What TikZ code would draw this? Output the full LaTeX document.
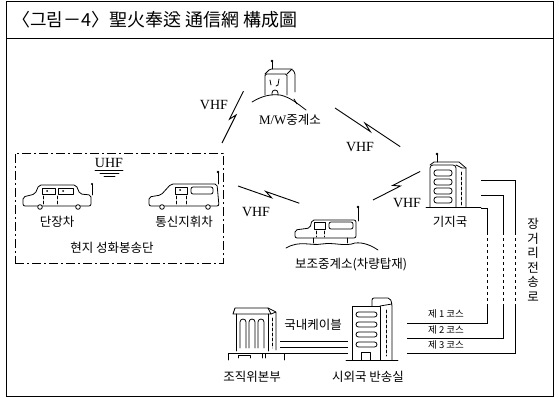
\documentclass[tikz,border=0pt]{standalone}
\usepackage{fontspec}
\setmainfont{Liberation Serif}
\newfontfamily\kr{Noto Sans CJK KR}
\usetikzlibrary{calc,positioning}

\tikzset{
  icon/.style={line width=0.8pt, line join=round, line cap=round},
  wire/.style={line width=0.9pt},
  krtext/.style={font=\kr\fontsize{12.5}{13}\selectfont, inner sep=1pt},
  freq/.style={font=\fontsize{14}{14}\selectfont, inner sep=1pt},
  course/.style={font=\kr\fontsize{9.5}{10}\selectfont, inner sep=1pt},
  spot/.style={inner sep=0pt, minimum width=#1, minimum height=#1},
  unitbox/.style={draw, line width=0.9pt, dash pattern=on 9pt off 3pt on 2pt off 3pt, inner sep=0pt},
}

% radio hop: straight line with a small zigzag break
\newcommand\radiolink[2]{%
  \draw[wire] (#1) -- ($(#1)!0.56!(#2)$) -- ($(#1)!0.44!(#2)!4pt!90:(#2)$) -- ($(#2)!4pt!-90:(#1)$);
}

\begin{document}
\begin{tikzpicture}[x=1pt,y=-1pt]
\useasboundingbox (0,0) rectangle (559,398);

% frame and title bar
\draw[line width=1pt] (6,2) rectangle (553,396);
\draw[line width=1pt] (6,39) -- (553,39);
\node[anchor=west, font=\kr\fontsize{18}{18}\selectfont, inner sep=0pt] (title) at (12,20) {〈그림－4〉聖火奉送 通信網 構成圖};

% M/W relay on the hill
\node[spot=40] (mw) at (280,84) {};
\draw[icon, rounded corners=1.5pt] (265,95) -- (265,74) -- (287,74) -- (287,95);
\draw[icon, rounded corners=1.5pt] (265,74) -- (270,69) -- (292,69) -- (295,73) -- (295,92);
\draw[icon] (287,74) -- (292,69);
\draw[icon] (272,69) -- (272,61);
\fill (272,61) circle (1.4);
\draw[icon] (270,80) -- (271,85) (279,79) -- (278,85) -- (276,86);
\draw[icon] (272,95) -- (272,93) arc (180:360:3) -- (278,95);
\draw[icon] (252,102) .. controls (262,96) and (270,94) .. (280,95) .. controls (290,97) and (298,104) .. (306,110);
\draw[icon] (294,99) -- (297,104);
\node[krtext] (mwlabel) at (290,120) {{\rmfamily\fontsize{13}{13}\selectfont M/W}중계소};

% field team
\node[unitbox, minimum width=208, minimum height=110] (unit) at (119,208) {};
\node[freq] (uhf) at (109,163) {UHF};
\draw[icon] (95,170) -- (123,170) (100,173) -- (119,173) (104,176) -- (115,176);

% lead car
\draw[icon, rounded corners=2pt] (23,206) -- (23,197) -- (35,194) -- (39,185) -- (76,185) -- (80,194) -- (91,195) -- (91,206) -- cycle;
\draw[icon] (42,188) rectangle (55,194) (58,188) rectangle (73,194);
\fill (47,191) circle (1) (63,191) circle (1);
\draw[icon, densely dashed] (43,196) -- (43,205) (57,196) -- (57,205);
\draw[icon, fill=white] (40,207) circle (2.3) (78,207) circle (2.3);
\draw[icon] (92,195) -- (92,184);
\fill (92,184) circle (1.2);
\node[krtext] (leadcar) at (57,222) {단장차};

% command car
\draw[icon, rounded corners=2pt] (149,206) -- (149,197) -- (161,195) -- (171,184) -- (217,184) -- (219,206) -- cycle;
\draw[icon] (175,187) rectangle (187,194);
\draw[icon, rounded corners=2pt] (191,187) rectangle (213,194);
\fill (180,190) circle (1);
\draw[icon, densely dashed] (176,196) -- (176,205) (186,196) -- (186,205);
\draw[icon, fill=white] (162,207) circle (2.3) (208,207) circle (2.3);
\draw[icon] (218,184) -- (218,172);
\fill (218,172) circle (1.3);
\node[krtext] (cmdcar) at (184,222) {통신지휘차};
\node[krtext] (team) at (112,248) {현지 성화봉송단};

% mobile relay car
\draw[icon, rounded corners=2pt] (295,238) -- (295,230) -- (310,228) -- (312,220) -- (356,220) -- (356,238) -- cycle;
\draw[icon] (314,222) rectangle (325,229);
\draw[icon, rounded corners=2pt] (329,222) rectangle (353,229);
\draw[icon, densely dashed] (316,231) -- (316,237) (324,231) -- (324,237);
\draw[icon] (313,238) -- (313,243) (347,238) -- (347,243);
\draw[icon] (358,221) -- (358,207);
\fill (358,207) circle (1.3);
\draw[icon] (286,248) .. controls (300,240) and (310,246) .. (322,244) .. controls (334,242) and (345,247) .. (355,243) .. controls (364,242) and (372,246) .. (378,250);
\node[krtext] (relay) at (351,265) {보조중계소(차량탑재)};

% base station
\node[spot=50] (base) at (455,185) {};
\draw[icon, rounded corners=3pt] (430,207) -- (430,165) -- (456,165) -- (456,207);
\draw[icon] (430,165) -- (434,162) -- (459,162) -- (466,168) -- (466,207);
\draw[icon] (456,165) -- (462,168) -- (466,168);
\draw[icon, densely dashed] (461,172) -- (461,205);
\foreach \wy in {170,179,188,197}
  \draw[icon, rounded corners=2.5pt] (434,\wy) rectangle (452,\wy+6);
\draw[icon] (437,162) -- (437,154);
\fill (437,154) circle (1.3);
\draw[icon] (426,207) -- (481,207);
\node[krtext] (baselabel) at (450,222) {기지국};

% HQ building
\node[spot=50] (hq) at (255,335) {};
\draw[icon] (233,314) -- (235,308) -- (268,308) -- (271,314) -- cycle;
\draw[icon] (268,308) -- (276,312) -- (276,350) (271,314) -- (276,312);
\draw[icon] (236,314) -- (236,351) (268,314) -- (268,351);
\foreach \wx in {240,249,258}
  \draw[icon] (\wx,348) -- (\wx,322) arc (180:360:3) -- (\wx+6,348);
\draw[icon, densely dashed] (272,318) -- (272,348);
\draw[icon] (228,360) -- (228,353) -- (284,353) -- (284,360);
\draw[icon] (238,358) -- (238,355) -- (250,355) -- (250,358) (262,354) -- (262,358) (265,354) -- (265,358);
\node[krtext] (hqlabel) at (252,377) {조직위본부};

% toll office
\node[spot=50] (toll) at (372,330) {};
\draw[icon] (352,360) -- (352,306) -- (380,306) -- (380,360);
\draw[icon, rounded corners=2pt] (372,306) -- (372,298) -- (390,298) -- (392,304) -- (392,360);
\draw[icon] (380,306) -- (392,304);
\draw[icon, densely dashed] (386,310) -- (386,356);
\foreach \wy in {312,322,332,342}
  \draw[icon, rounded corners=2.5pt] (356,\wy) rectangle (377,\wy+5);
\draw[icon] (361,360) -- (361,352) -- (370,352) -- (370,360);
\draw[icon] (346,360) -- (398,360);
\node[krtext] (tolllabel) at (368,377) {시외국 반송실};

% domestic cable
\foreach \cy in {341,347,353}
  \draw[wire] (280,\cy) -- (348,\cy);
\node[krtext] (cable) at (313,325) {국내케이블};

% long-distance routes
\foreach \xr/\yt/\yb in {515/180/353, 503/195/338, 487/208/323} {
  \draw[wire] (481,\yt) -- (\xr,\yt) -- (\xr,232);
  \draw[wire, dash pattern=on 3pt off 3pt] (\xr,232) -- (\xr,305);
  \draw[wire] (\xr,305) -- (\xr,\yb) -- (407,\yb);
}
\node[course] (c1) at (446,314) {제 1 코스};
\node[course] (c2) at (446,330) {제 2 코스};
\node[course] (c3) at (446,345) {제 3 코스};
\node[krtext, align=center, font=\kr\fontsize{12.5}{14.5}\selectfont] (trunk) at (533,260) {장\\거\\리\\전\\송\\로};

% radio hops
\coordinate (hop1a) at (222,143); \coordinate (hop1b) at (247,93);
\coordinate (hop2a) at (335,108); \coordinate (hop2b) at (398,150);
\coordinate (hop3a) at (238,186); \coordinate (hop3b) at (298,207);
\coordinate (hop4a) at (373,200); \coordinate (hop4b) at (422,175);
\radiolink{hop1a}{hop1b}
\radiolink{hop2a}{hop2b}
\radiolink{hop3a}{hop3b}
\radiolink{hop4a}{hop4b}
\node[freq] (vhf1) at (214,105) {VHF};
\node[freq] (vhf2) at (360,147) {VHF};
\node[freq] (vhf3) at (256,212) {VHF};
\node[freq] (vhf4) at (407,203) {VHF};
\end{tikzpicture}
\end{document}
